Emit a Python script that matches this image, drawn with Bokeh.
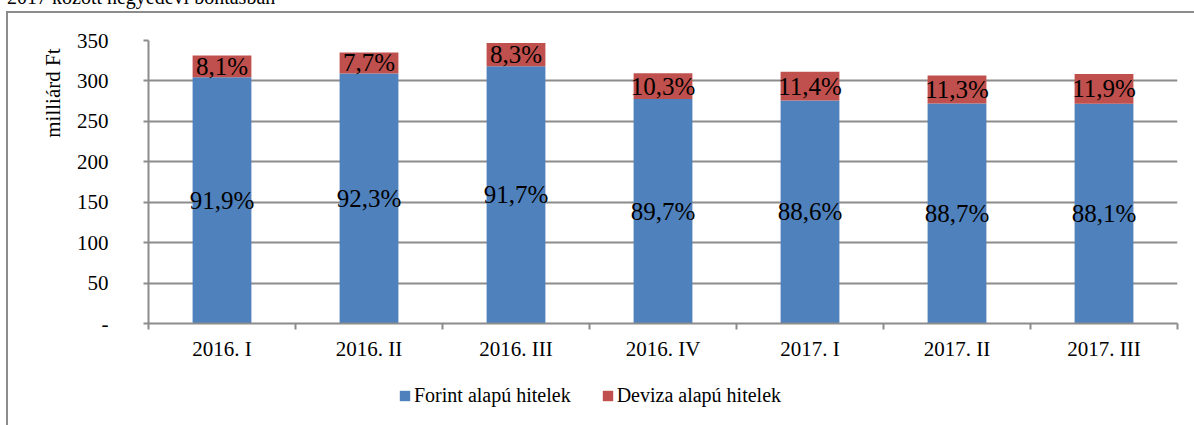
from bokeh.plotting import figure
from bokeh.layouts import column
from bokeh.models import (ColumnDataSource, Range1d, FixedTicker, Legend, LegendItem, Title, Div)
from bokeh.core.properties import value
from bokeh.embed import file_html
from bokeh.resources import INLINE

categories = ["2016. I", "2016. II", "2016. III", "2016. IV", "2017. I", "2017. II", "2017. III"]
forint = [304.6, 309.3, 318.2, 277.7, 275.8, 272.0, 271.8]
deviza = [26.9, 25.8, 28.8, 31.9, 35.5, 34.7, 36.7]
forint_pct = ["91,9%", "92,3%", "91,7%", "89,7%", "88,6%", "88,7%", "88,1%"]
deviza_pct = ["8,1%", "7,7%", "8,3%", "10,3%", "11,4%", "11,3%", "11,9%"]
y_ticks = [0, 50, 100, 150, 200, 250, 300, 350]
y_tick_labels = ["-", "50", "100", "150", "200", "250", "300", "350"]
series_names = ["Forint alapú hitelek", "Deviza alapú hitelek"]
title_text = "2017 között negyedévi bontásban"
y_title = "milliárd Ft"

BLUE = "#4F81BD"
RED = "#C0504D"
GRID = "#8c8c8c"
FONT = "Liberation Serif"

n = len(categories)
xs = [i + 0.5 for i in range(n)]
src = ColumnDataSource(dict(
    x=xs,
    forint=forint,
    deviza=deviza,
    f_mid=[f / 2 for f in forint],
    d_mid=[f + d / 2 for f, d in zip(forint, deviza)],
    f_lab=forint_pct,
    d_lab=deviza_pct,
))

# ---- partially visible heading (cut at the top of the page, like the reference)
head = Div(text=('<div style="font-family:\'Liberation Serif\'; font-size:20px; line-height:20px; '
                 'white-space:nowrap; position:relative; top:-13px; left:7px; color:black;">'
                 + title_text + '</div>'),
           width=1194, height=11, styles={"overflow": "hidden", "margin": "0", "padding": "0"})

# ---- main chart
p = figure(width=1186, height=367, x_range=Range1d(0, n), y_range=Range1d(0, 350),
           output_backend="svg", toolbar_location=None,
           min_border_left=140, min_border_right=17, min_border_top=27, min_border_bottom=57)
p.outline_line_color = None
p.background_fill_color = "white"
p.border_fill_color = "white"

p.vbar_stack(["forint", "deviza"], x="x", width=0.4, color=[BLUE, RED], source=src,
             line_color=None)

p.text(x="x", y="f_mid", text="f_lab", source=src, text_font=value(FONT),
       text_font_size="25px", text_align="center", text_baseline="middle", text_color="black")
p.text(x="x", y="d_mid", text="d_lab", source=src, text_font=value(FONT),
       text_font_size="25px", text_align="center", text_baseline="middle", text_color="black")

p.xgrid.grid_line_color = None
p.ygrid.grid_line_color = GRID
p.ygrid.grid_line_width = 2
p.yaxis.ticker = FixedTicker(ticks=y_ticks)
p.yaxis.major_label_overrides = {t: l for t, l in zip(y_ticks, y_tick_labels)}
p.yaxis.minor_tick_line_color = None
p.yaxis.major_tick_in = 0
p.yaxis.major_tick_out = 5
p.yaxis.major_tick_line_color = GRID
p.yaxis.major_tick_line_width = 2
p.yaxis.axis_line_color = GRID
p.yaxis.axis_line_width = 2
p.yaxis.major_label_standoff = 35
p.yaxis.major_label_text_font = FONT
p.yaxis.major_label_text_font_size = "21px"
p.yaxis.major_label_text_color = "black"

p.xaxis.ticker = FixedTicker(ticks=xs, minor_ticks=list(range(n + 1)))
p.xaxis.major_label_overrides = {x: c for x, c in zip(xs, categories)}
p.xaxis.major_tick_line_color = None
p.xaxis.major_tick_in = 0
p.xaxis.major_tick_out = 0
p.xaxis.minor_tick_line_color = GRID
p.xaxis.minor_tick_line_width = 2
p.xaxis.minor_tick_in = 0
p.xaxis.minor_tick_out = 6
p.xaxis.axis_line_color = GRID
p.xaxis.axis_line_width = 2
p.xaxis.major_label_standoff = 7
p.xaxis.major_label_text_font = FONT
p.xaxis.major_label_text_font_size = "21px"
p.xaxis.major_label_text_color = "black"

# y-axis title near the top of the axis
p.add_layout(Title(text=y_title, align="right", offset=8, standoff=18, vertical_align="bottom",
                   text_font=FONT, text_font_size="21px", text_font_style="normal",
                   text_color="black"), "left")

# ---- legend strip
leg = figure(width=1186, height=45, x_range=Range1d(0, 1), y_range=Range1d(0, 1),
             output_backend="svg", toolbar_location=None, min_border=0,
             x_axis_location=None, y_axis_location=None)
leg.grid.grid_line_color = None
leg.outline_line_color = None
leg.background_fill_color = "white"
leg.border_fill_color = "white"
r0 = leg.vbar(x=[-5], top=[0], bottom=[0], width=0.01, color=BLUE, line_color=None)
r1 = leg.vbar(x=[-5], top=[0], bottom=[0], width=0.01, color=RED, line_color=None)
legend = Legend(items=[LegendItem(label=series_names[0], renderers=[r0]),
                       LegendItem(label=series_names[1], renderers=[r1])],
                orientation="horizontal", location=(250, 18),
                glyph_width=13, glyph_height=13, label_standoff=3, spacing=30,
                padding=4, margin=0, border_line_color=None, background_fill_alpha=0,
                label_text_font=FONT, label_text_font_size="20px", label_text_color="black")
leg.add_layout(legend, "center")

body = column(p, leg, spacing=0,
              styles={"border-left": "2px solid #8c8c8c", "border-top": "2px solid #8c8c8c",
                      "margin-left": "6px"})
page = column(head, body, spacing=0)

open("out.html", "w").write(file_html(page, INLINE))
